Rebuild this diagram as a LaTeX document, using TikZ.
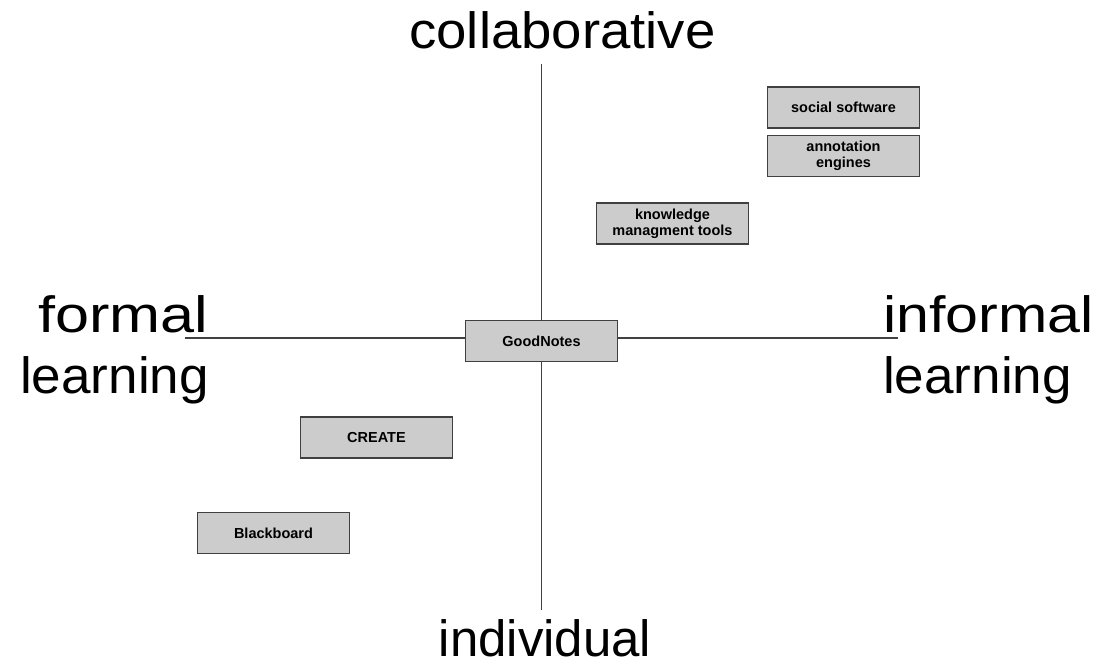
\documentclass[tikz,border=0pt]{standalone}
\usepackage{fontspec}
\setmainfont{Liberation Sans}
\begin{document}
\begin{tikzpicture}[x=1pt,y=-1pt,
  axis/.style={draw=black!75, line width=1.1pt},
  tool/.style={draw=black!75, line width=1.3pt, fill=black!20, minimum width=152pt, minimum height=41pt,
    inner sep=0pt, align=center, font=\fontsize{14.5}{16}\selectfont\bfseries},
  biglabel/.style={font=\fontsize{51}{61}\selectfont, inner sep=0pt, anchor=base}]
\useasboundingbox (0,0) rectangle (1097,665);
\fill[white] (0,0) rectangle (1097,665);
% axis ends
\coordinate (top) at (541.5,64);
\coordinate (bottom) at (541.5,610);
\coordinate (left) at (185,338);
\coordinate (right) at (898,338);
\node[tool] (gn) at (541.5,341) {GoodNotes};
\draw[axis] (top) -- (gn.north -| top);
\draw[axis] (gn.south -| bottom) -- (bottom);
\draw[axis] (left) -- (gn.west |- left);
\draw[axis] (gn.east |- right) -- (right);
\node[tool] (ss) at (843.5,107.5) {social software};
\node[tool] (ae) at (843.5,156) {annotation\\engines};
\node[tool] (km) at (672.5,223.5) {knowledge\\managment tools};
\node[tool] (cr) at (376.5,437.5) {CREATE};
\node[tool] (bb) at (273.5,533) {Blackboard};
% labels
\node[biglabel] (collab) at (562.5,48) {\scalebox{1.07}[1]{collaborative}};
\node[biglabel] (indiv) at (545,656) {individual};
\node[biglabel, anchor=base west] (formal) at (38,332) {\scalebox{1.2}[1]{formal}};
\node[biglabel, anchor=base west] (flearn) at (20,393) {\scalebox{1.04}[1]{learning}};
\node[biglabel, anchor=base west] (informal) at (883,332) {\scalebox{1.16}[1]{informal}};
\node[biglabel, anchor=base west] (ilearn) at (883,393) {\scalebox{1.04}[1]{learning}};
\end{tikzpicture}
\end{document}
